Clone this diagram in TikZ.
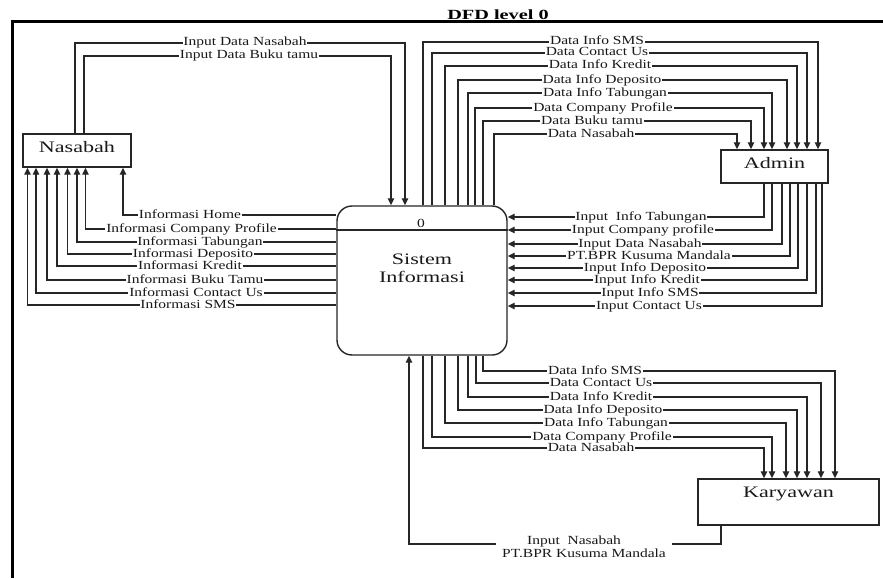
\documentclass[tikz,border=0pt]{standalone}
\usepackage{fontspec}
\setmainfont{Liberation Serif}[FakeStretch=1.25]
\newfontfamily\boxfont{Liberation Serif}[FakeStretch=1.38]
\newfontfamily\titlefont{Liberation Serif}[FakeStretch=1.45]
\usetikzlibrary{arrows.meta}
\begin{document}
\begin{tikzpicture}[x=1pt,y=-1pt,
  wire/.style={draw=black!85, line width=1.3pt},
  flow/.style={wire, -{Triangle[length=7pt,width=6.5pt]}},
  lbl/.style={fill=white, inner xsep=0.8pt, inner ysep=0.2pt, text=black!90,
    text height=7.6pt, text depth=1.6pt,
    font=\fontsize{12.4}{13}\selectfont},
  ent/.style={draw=black!85, line width=1.4pt, fill=white, inner sep=0pt,
    text=black!90, font=\boxfont\fontsize{16}{18}\selectfont},
]
\useasboundingbox (0,0) rectangle (883,578);
\fill[white] (0,0) rectangle (883,578);
% frame and title
\draw[line width=3pt] (883,22) -- (12,22) -- (12,578);
\node[font=\titlefont\bfseries\fontsize{14}{14}\selectfont, inner sep=0pt] (title) at (498,15) {DFD level 0};

% entities
\node[ent, minimum width=108pt, minimum height=33pt, text height=11pt, text depth=7.4pt] (nas) at (77,150.5) {Nasabah};
\node[ent, minimum width=107pt, minimum height=33pt, text height=11pt, text depth=7.4pt] (adm) at (774.5,166.5) {Admin};
\node[ent, minimum width=181pt, minimum height=46pt, text height=11pt, text depth=20.4pt] (kar) at (788.5,502) {Karyawan};
\node[ent, rounded corners=15pt, minimum width=170pt, minimum height=149pt] (sys) at (422,280.5) {};
\draw[wire] (sys.west |- 0,230) -- (sys.east |- 0,230);
\node[lbl, fill=none] (sysid) at (421,224) {0};
\node[align=center, text=black!90, font=\boxfont\fontsize{16}{18}\selectfont, inner sep=0pt] (systext) at (422,268) {Sistem\\Informasi};

% Nasabah -> Sistem
\draw[flow] (75,0 |- nas.north) |- (405,43) -- (405,0 |- sys.north);
\node[lbl] at (245,43) {Input Data Nasabah};
\draw[flow] (84,0 |- nas.north) |- (391,56) -- (391,0 |- sys.north);
\node[lbl] at (249,56) {Input Data Buku tamu};

% Sistem -> Admin
\foreach \xa/\yy/\xb/\lx/\txt in {
  423/42/818/597/Data Info SMS,
  432/53/807/597/Data Contact Us,
  445/66/797/600/Data Info Kredit,
  458/80/787/602/Data Info Deposito,
  468/93/772/605/Data Info Tabungan,
  475/108/764/603/Data Company Profile,
  483/121/751/592/Data Buku tamu,
  494/134/737/591/Data Nasabah}{
  \draw[flow] (\xa,0 |- sys.north) |- (\xb,\yy) -- (\xb,0 |- adm.north);
  \node[lbl] at (\lx,\yy) {\txt};
}

% Admin -> Sistem
\foreach \xa/\yy/\lx/\txt in {
  764/217/641/Input\ \ Info Tabungan,
  772/230/643/Input Company profile,
  782/244/640/Input Data Nasabah,
  790/256/649/PT.BPR Kusuma Mandala,
  798/268/645/Input Info Deposito,
  807/280/647/Input Info Kredit,
  816/293/650/Input Info SMS,
  822/306/649/Input Contact Us}{
  \draw[flow] (\xa,0 |- adm.south) |- (sys.east |- 0,\yy);
  \node[lbl] at (\lx,\yy) {\txt};
}

% Sistem -> Nasabah
\foreach \yy/\xb/\lx/\txt in {
  215/123/190/Informasi Home,
  229/85.5/191.5/Informasi Company Profile,
  242/77/200/Informasi Tabungan,
  254/67.5/193/Informasi Deposito,
  266/57/190/Informasi Kredit,
  280/47/195/Informasi Buku Tamu,
  293/36/196/Informasi Contact Us,
  305/27.5/188/Informasi SMS}{
  \draw[flow] (sys.west |- 0,\yy) -| (\xb,0 |- nas.south);
  \node[lbl] at (\lx,\yy) {\txt};
}

% Sistem -> Karyawan
\foreach \xa/\yy/\xb/\lx/\txt in {
  483/371/835/595/Data Info SMS,
  476/383/821/601/Data Contact Us,
  468/397/807/601/Data Info Kredit,
  458/410/797/603/Data Info Deposito,
  445/423/786/606/Data Info Tabungan,
  432/437/772/602/Data Company Profile,
  423/448/764/591/Data Nasabah}{
  \draw[flow] (\xa,0 |- sys.south) |- (\xb,\yy) -- (\xb,0 |- kar.north);
  \node[lbl] at (\lx,\yy) {\txt};
}

% Karyawan -> Sistem
\draw[flow] (721,0 |- kar.south) |- (409,544) -- (409,0 |- sys.south);
\node[lbl, align=center, inner xsep=6pt, text height=, text depth=, inner ysep=0.8pt] at (584,547) {Input\ \ Nasabah\hspace*{20pt}\\PT.BPR Kusuma Mandala};
\end{tikzpicture}
\end{document}
